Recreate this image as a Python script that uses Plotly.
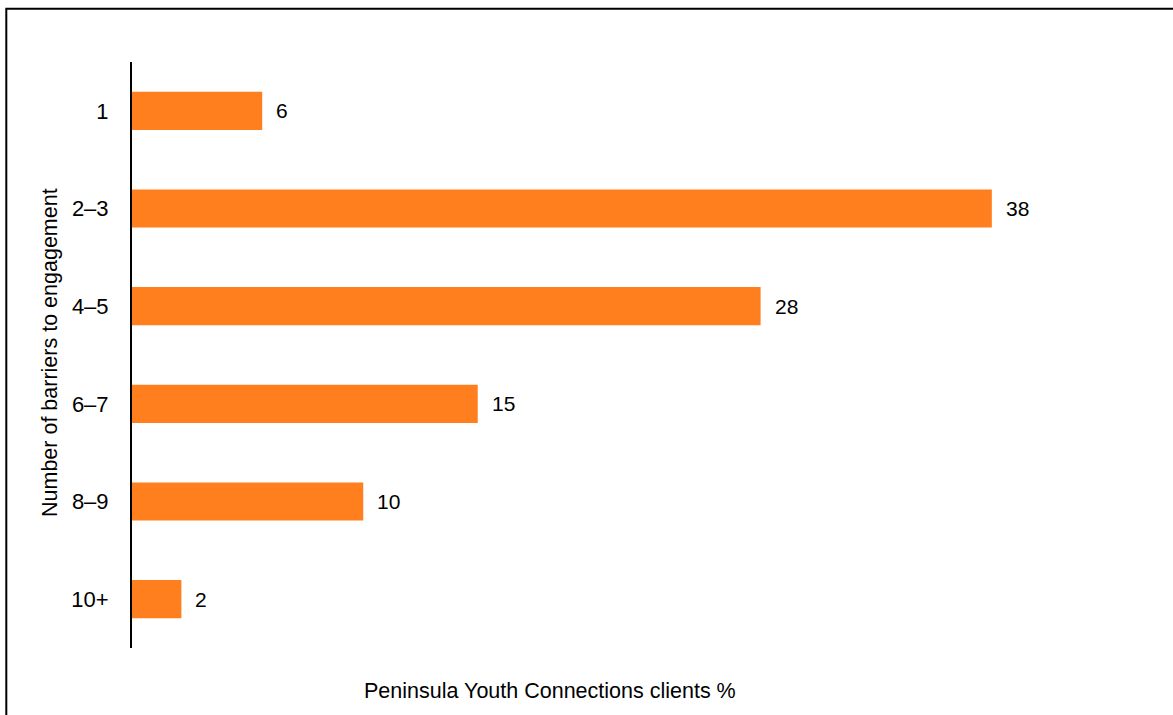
import plotly.graph_objects as go

categories = ["1", "2–3", "4–5", "6–7", "8–9", "10+"]
values = [5.8, 38.3, 28.0, 15.4, 10.3, 2.2]
labels = ["6", "38", "28", "15", "10", "2"]

FONT = "Liberation Sans, Arial, sans-serif"
BAR_COLOR = "#FF7F1E"
FS = 21

W, H = 1173, 715
L, R, T, B = 132, 143, 62, 67
pw, ph = W - L - R, H - T - B

def px_x(px):
    return (px - L) / pw

def px_y(py):
    return (H - B - py) / ph

fig = go.Figure()
fig.add_trace(go.Bar(
    x=values, y=categories, orientation="h",
    marker=dict(color=BAR_COLOR, line=dict(width=0)),
    width=0.39, hoverinfo="skip",
))

annotations = []
for i, (v, t) in enumerate(zip(values, labels)):
    annotations.append(dict(
        x=v, y=i, xref="x", yref="y", text=t, showarrow=False,
        xanchor="left", yanchor="middle", xshift=12,
        font=dict(family=FONT, size=FS, color="#000000"),
    ))

annotations.append(dict(
    x=px_x(550), y=px_y(691), xref="paper", yref="paper",
    text="Peninsula Youth Connections clients %", showarrow=False,
    xanchor="center", yanchor="middle",
    font=dict(family=FONT, size=FS + 0.5, color="#000000"),
))
annotations.append(dict(
    x=px_x(50), y=px_y(353), xref="paper", yref="paper",
    text="Number of barriers to engagement", showarrow=False, textangle=-90,
    xanchor="center", yanchor="middle",
    font=dict(family=FONT, size=FS + 0.5, color="#000000"),
))

fig.update_layout(
    width=W, height=H,
    margin=dict(l=L, r=R, t=T, b=B, pad=0),
    paper_bgcolor="white", plot_bgcolor="white",
    showlegend=False,
    font=dict(family=FONT, size=FS, color="#000000"),
    xaxis=dict(range=[0, 40], visible=False, fixedrange=True),
    yaxis=dict(
        autorange="reversed", categoryorder="array", categoryarray=categories,
        showline=True, linecolor="#000000", linewidth=2,
        showgrid=False, zeroline=False, ticks="", ticklabelstandoff=17,
        tickfont=dict(family=FONT, size=22, color="#000000"),
        fixedrange=True,
    ),
    annotations=annotations,
    shapes=[dict(
        type="rect", xref="paper", yref="paper",
        x0=px_x(6.3), x1=px_x(1200), y0=px_y(760), y1=px_y(8.7),
        line=dict(color="#000000", width=2), fillcolor="rgba(0,0,0,0)",
        layer="above",
    )],
)

fig.write_html("out.html")
